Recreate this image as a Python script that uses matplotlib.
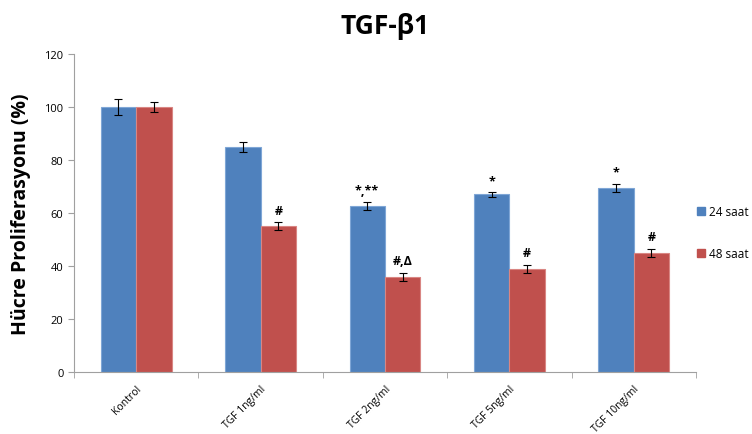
import numpy as np
import matplotlib.pyplot as plt
from matplotlib.patches import Patch

# Data
categories = ["Kontrol", "TGF 1ng/ml", "TGF 2ng/ml", "TGF 5ng/ml", "TGF 10ng/ml"]
vals_24 = [100, 85, 62.5, 67, 69.5]
err_24 = [3, 1.8, 1.5, 0.8, 1.5]
vals_48 = [100, 55, 36, 39, 45]
err_48 = [2, 1.5, 1.5, 1.5, 1.5]
marks_24 = ["", "", "*,**", "*", "*"]
marks_48 = ["", "#", "#,Δ", "#", "#"]
series = ["24 saat", "48 saat"]

blue = "#4F81BD"
red = "#C0504D"
font = ["Open Sans", "DejaVu Sans"]
plt.rcParams['font.family'] = font

fig = plt.figure(figsize=(7.52, 4.35), dpi=100)
ax = fig.add_axes([0.0984, 0.1425, 0.827, 0.731])

x = np.arange(len(categories))
w = 0.285
ax.bar(x - w/2, vals_24, w, color=blue, edgecolor="#7FA6D6", linewidth=0.8)
ax.bar(x + w/2, vals_48, w, color=red, edgecolor="#D98683", linewidth=0.8)
ax.errorbar(x - w/2, vals_24, yerr=err_24, fmt="none", ecolor="black",
            elinewidth=0.8, capsize=3, capthick=0.8)
ax.errorbar(x + w/2, vals_48, yerr=err_48, fmt="none", ecolor="black",
            elinewidth=0.8, capsize=3, capthick=0.8)

# significance marks
for i in range(len(categories)):
    if marks_24[i]:
        ax.text(x[i] - w/2, vals_24[i] + err_24[i] + 2, marks_24[i],
                ha="center", va="bottom", fontsize=9, fontweight="bold")
    if marks_48[i]:
        ax.text(x[i] + w/2, vals_48[i] + err_48[i] + 2, marks_48[i],
                ha="center", va="bottom", fontsize=9, fontweight="bold")

ax.set_xlim(-0.5, len(categories) - 0.5)
ax.set_ylim(0, 120)
ax.set_yticks(range(0, 121, 20))
ax.tick_params(axis="y", labelsize=8, length=4, color="#A0A0A0")
ax.set_xticks(x)
ax.set_xticklabels(categories, rotation=45, ha="right", rotation_mode="anchor",
                   fontsize=7.5)
ax.tick_params(axis="x", length=0, pad=8)
# category separator ticks
ax.set_xticks(np.arange(len(categories) + 1) - 0.5, minor=True)
ax.tick_params(axis="x", which="minor", length=4, color="#A0A0A0")

for s in ["top", "right"]:
    ax.spines[s].set_visible(False)
for s in ["left", "bottom"]:
    ax.spines[s].set_color("#A0A0A0")

ax.set_ylabel("Hücre Proliferasyonu (%)", fontsize=14, fontweight="bold", labelpad=10)
fig.text(0.512, 0.94, "TGF-β1", ha="center", va="center", fontsize=19, fontweight="bold")

handles = [Patch(color=blue), Patch(color=red)]
fig.legend(handles, series, loc="upper left", bbox_to_anchor=(0.922, 0.535),
           frameon=False, fontsize=8.5, labelspacing=2.5, handlelength=0.7,
           handleheight=0.7, handletextpad=0.3, borderaxespad=0, borderpad=0.3)

fig.savefig("out.png", dpi=100)
